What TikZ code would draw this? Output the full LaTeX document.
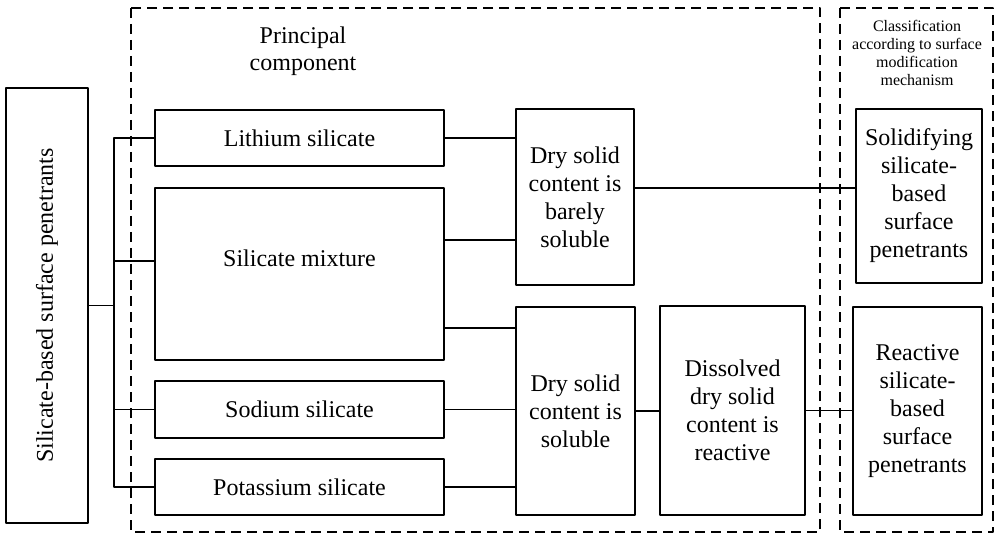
\documentclass[tikz,border=0pt]{standalone}
\usepackage{graphicx}
\usepackage{fontspec}
\setmainfont{Liberation Serif}
\begin{document}
\begin{tikzpicture}[x=0.5pt,y=-0.5pt,line join=round,
	box/.style={draw,line width=1pt,inner sep=1pt,align=center,font=\fontsize{12}{14}\selectfont},
	link/.style={line width=0.75pt},
	frame/.style={draw,line width=1pt,dash pattern=on 5pt off 3pt}]
	\useasboundingbox (0,0) rectangle (997,535);
	\draw[frame] (131,8) rectangle (820,532);
	\draw[frame] (840,8) rectangle (993,532);
	\node[font=\fontsize{12}{13.5}\selectfont,align=center] (princ) at (303,51) {Principal\\component};
	\node[font=\fontsize{8}{9}\selectfont,align=center] (class) at (917,53) {Classification\\according to surface\\modification\\mechanism};
	% boxes
	\node[box,minimum width=41pt,minimum height=217.5pt] (pen) at (47,305.5) {\rotatebox{90}{Silicate-based surface penetrants}};
	\node[box,minimum width=144.5pt,minimum height=28pt] (lith) at (299.5,138) {Lithium silicate};
	\node[box,minimum width=144.5pt,minimum height=86pt,label={[yshift=8pt,font=\fontsize{12}{14}\selectfont]center:Silicate mixture}] (mix) at (299.5,274) {};
	\node[box,minimum width=144.5pt,minimum height=28.5pt] (sod) at (299.5,409.5) {Sodium silicate};
	\node[box,minimum width=144.5pt,minimum height=28pt] (pot) at (299.5,487) {Potassium silicate};
	\node[box,minimum width=59pt,minimum height=88pt] (dry1) at (575,197) {Dry solid\\content is\\barely\\soluble};
	\node[box,minimum width=59.5pt,minimum height=104pt] (dry2) at (575.5,411) {Dry solid\\content is\\soluble};
	\node[box,minimum width=72.5pt,minimum height=104.5pt] (diss) at (732.5,410.5) {Dissolved\\dry solid\\content is\\reactive};
	\node[box,minimum width=63pt,minimum height=87pt] (solid) at (919,196) {Solidifying\\silicate-\\based\\surface\\penetrants};
	\node[box,minimum width=64.5pt,minimum height=104pt] (react) at (917.5,411) {Reactive\\silicate-\\based\\surface\\penetrants};
	% connectors
	\coordinate (bus) at (114,0);
	\draw[link] (pen.east) -- (pen.east -| bus);
	\draw[link] (lith.west) -| (bus |- pot.west) -- (pot.west);
	\draw[link] (bus |- 0,261) -- (mix.west |- 0,261);
	\draw[link] (bus |- sod.west) -- (sod.west);
	\draw[link] (lith.east) -- (lith.east -| dry1.west);
	\draw[link] (mix.east |- 0,240) -- (dry1.west |- 0,240);
	\draw[link] (mix.east |- 0,328) -- (dry2.west |- 0,328);
	\draw[link] (sod.east) -- (sod.east -| dry2.west);
	\draw[link] (pot.east) -- (pot.east -| dry2.west);
	\draw[link] (dry1.east |- 0,188) -- (solid.west |- 0,188);
	\draw[link] (dry2.east) -- (dry2.east -| diss.west);
	\draw[link] (diss.east) -- (diss.east -| react.west);
\end{tikzpicture}
\end{document}
